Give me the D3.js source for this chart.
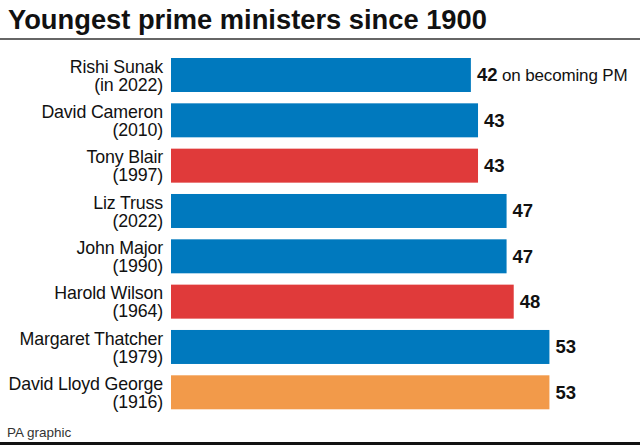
<!DOCTYPE html>
<html>
<head>
<meta charset="utf-8">
<script src="https://cdn.jsdelivr.net/npm/d3@7"></script>
<style>
  html, body { margin: 0; padding: 0; background: #fff; }
  svg { display: block; font-family: "Liberation Sans", Arial, Helvetica, sans-serif; }
</style>
</head>
<body>
<svg id="chart" width="640" height="448"></svg>
<script>
const names = ["Rishi Sunak", "David Cameron", "Tony Blair", "Liz Truss", "John Major", "Harold Wilson", "Margaret Thatcher", "David Lloyd George"];
const yearLabels = ["(in 2022)", "(2010)", "(1997)", "(2022)", "(1990)", "(1964)", "(1979)", "(1916)"];
const ages = [42, 43, 43, 47, 47, 48, 53, 53];
const parties = ["Conservative", "Conservative", "Labour", "Conservative", "Conservative", "Labour", "Conservative", "Liberal"];
const partyNames = ["Conservative", "Labour", "Liberal"];
const partyColors = ["#0079BE", "#E03A3A", "#F29A4A"];
const title = "Youngest prime ministers since 1900";
const source = "PA graphic";
const firstNote = " on becoming PM";

const svg = d3.select("#chart");
const W = 640, H = 448;

const color = d3.scaleOrdinal().domain(partyNames).range(partyColors);
const x = d3.scaleLinear().domain([0, 60]).range([171, 599.4]);
const y = d3.scaleBand().domain(names).range([58, 409.3]).paddingInner(0.25).paddingOuter(0);

// title
svg.append("text")
  .attr("x", 8).attr("y", 28.5)
  .attr("font-size", 27.3).attr("font-weight", "bold")
  .attr("fill", "#111")
  .text(title);

svg.append("line")
  .attr("x1", 0).attr("x2", W).attr("y1", 39).attr("y2", 39)
  .attr("stroke", "#333").attr("stroke-width", 1.3);

const rows = names.map((n, i) => ({ name: n, year: yearLabels[i], age: ages[i], party: parties[i] }));

// bars
svg.append("g").selectAll("rect").data(rows).join("rect")
  .attr("x", x(0))
  .attr("y", d => y(d.name))
  .attr("width", d => x(d.age) - x(0))
  .attr("height", y.bandwidth())
  .attr("fill", d => color(d.party));

// category labels
const lab = svg.append("g").selectAll("text").data(rows).join("text")
  .attr("text-anchor", "end")
  .attr("font-size", 17.8)
  .attr("fill", "#111")
  .attr("letter-spacing", -0.15);
lab.append("tspan")
  .attr("x", 163)
  .attr("y", d => y(d.name) + y.bandwidth() / 2 - 2.3)
  .text(d => d.name);
lab.append("tspan")
  .attr("x", 163)
  .attr("y", d => y(d.name) + y.bandwidth() / 2 + 15.8)
  .text(d => d.year);

// value labels
const val = svg.append("g").selectAll("text").data(rows).join("text")
  .attr("x", d => x(d.age) + 6)
  .attr("y", d => y(d.name) + y.bandwidth() / 2 + 6.2)
  .attr("fill", "#111");
val.append("tspan").attr("font-weight", "bold").attr("font-size", 18.5).text(d => d.age);
val.filter((d, i) => i === 0).append("tspan")
  .attr("font-weight", "normal").attr("font-size", 17).attr("letter-spacing", -0.15)
  .text(firstNote);

// footer
svg.append("text")
  .attr("x", 7).attr("y", 436.5)
  .attr("font-size", 13.5)
  .attr("fill", "#333")
  .text(source);

svg.append("line")
  .attr("x1", 0).attr("x2", W).attr("y1", 443.5).attr("y2", 443.5)
  .attr("stroke", "#111").attr("stroke-width", 3);
</script>
</body>
</html>
